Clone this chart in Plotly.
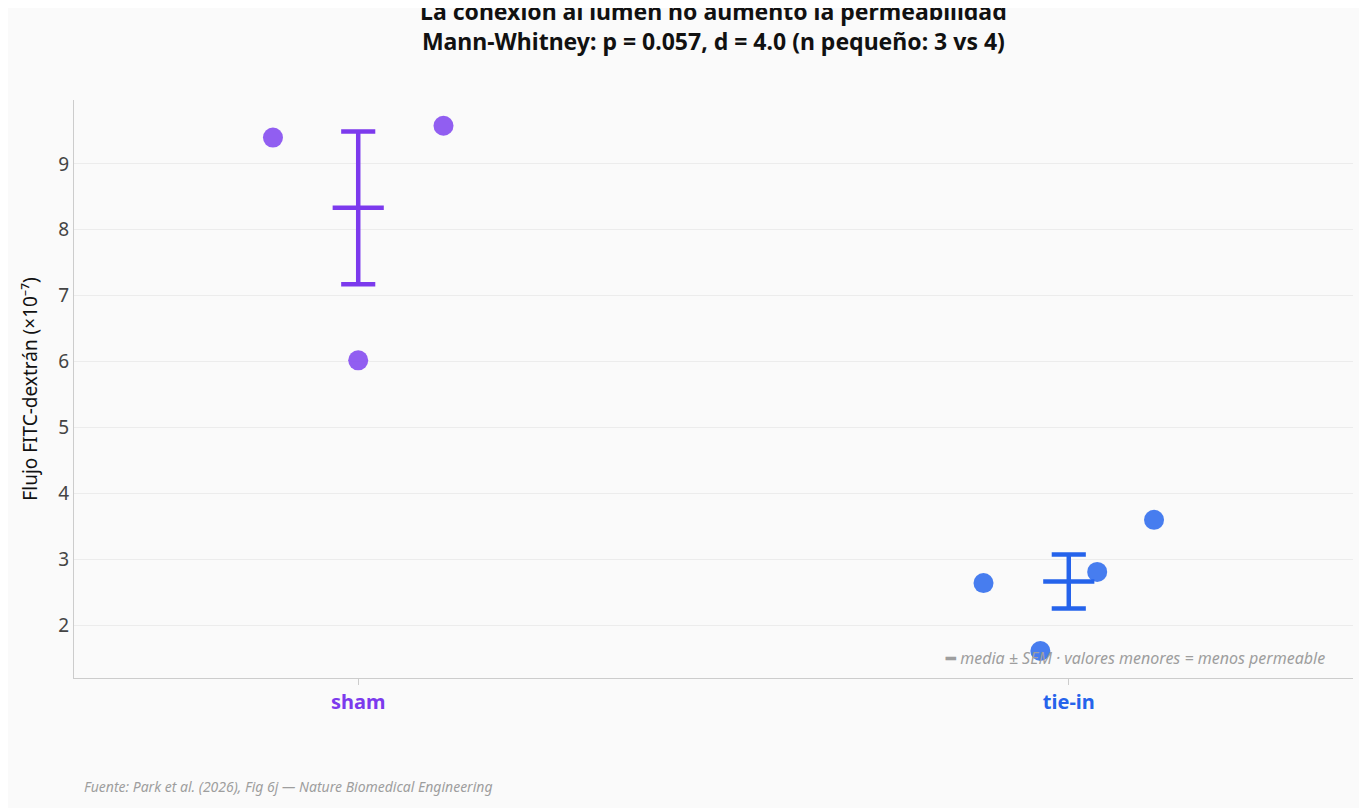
import numpy as np
import plotly.graph_objects as go

groups = ["sham", "tie-in"]
sham_vals = [9.40, 6.02, 9.58]
tiein_vals = [2.64, 1.61, 2.81, 3.60]
sham_offsets = [-0.12, 0.0, 0.12]
tiein_offsets = [-0.12, -0.04, 0.04, 0.12]
colors_line = ["#7c3aed", "#2563eb"]
colors_pt = ["#8b55f0", "#3d76ee"]

fig = go.Figure()
for i, (vals, offs) in enumerate([(sham_vals, sham_offsets), (tiein_vals, tiein_offsets)]):
    v = np.array(vals)
    m = v.mean()
    sem = v.std(ddof=1) / np.sqrt(len(v))
    fig.add_trace(go.Scatter(x=[i + o for o in offs], y=vals, mode="markers",
                             marker=dict(size=20, color=colors_pt[i], opacity=0.95),
                             showlegend=False, hoverinfo="y"))
    c = colors_line[i]
    lw = 4.5
    fig.add_trace(go.Scatter(x=[i, i], y=[m - sem, m + sem], mode="lines",
                             line=dict(color=c, width=lw), showlegend=False))
    for y, hw in [(m - sem, 0.024), (m + sem, 0.024), (m, 0.036)]:
        fig.add_trace(go.Scatter(x=[i - hw, i + hw], y=[y, y], mode="lines",
                                 line=dict(color=c, width=lw), showlegend=False))

fig.add_annotation(x=0.98, y=0.012, xref="paper", yref="paper", xanchor="right", yanchor="bottom",
                   text="<b>━</b> <i>media ± SEM · valores menores = menos permeable</i>",
                   showarrow=False, font=dict(size=16, color="#9e9e9e"))
fig.add_annotation(x=0.006, y=-0.187, xref="paper", yref="paper", xanchor="left", yanchor="middle",
                   text="<i>Fuente: Park et al. (2026), Fig 6j — Nature Biomedical Engineering</i>",
                   showarrow=False, font=dict(size=14, color="#9e9e9e"))

fig.update_layout(
    width=1367, height=808, paper_bgcolor="#fafafa", plot_bgcolor="#fafafa",
    margin=dict(l=66, r=22, t=92, b=138),
    font=dict(family="Noto Sans, sans-serif"),
    title=dict(text="<b>La conexión al lumen no aumentó la permeabilidad<br>Mann-Whitney: p = 0.057, d = 4.0 (n pequeño: 3 vs 4)</b>",
               x=0.516, xanchor="center", y=0.985, yanchor="top", font=dict(size=23, color="#111")),
    xaxis=dict(range=[-0.4, 1.4], tickvals=[0, 1],
               ticktext=[f"<b><span style='color:{colors_line[0]}'>{groups[0]}</span></b>",
                         f"<b><span style='color:{colors_line[1]}'>{groups[1]}</span></b>"],
               tickfont=dict(size=20), showgrid=False, zeroline=False, showline=True,
               linecolor="#cccccc", ticks="outside", ticklen=6, tickcolor="#cccccc"),
    yaxis=dict(range=[1.2, 9.97], tickvals=list(range(2, 10)), tickfont=dict(size=19, color="#444"),
               title=dict(text="Flujo FITC-dextrán (×10⁻⁷)", font=dict(size=19, color="#111")),
               gridcolor="#ececec", zeroline=False, showline=True, linecolor="#cccccc"),
)
fig.write_html("out.html")
